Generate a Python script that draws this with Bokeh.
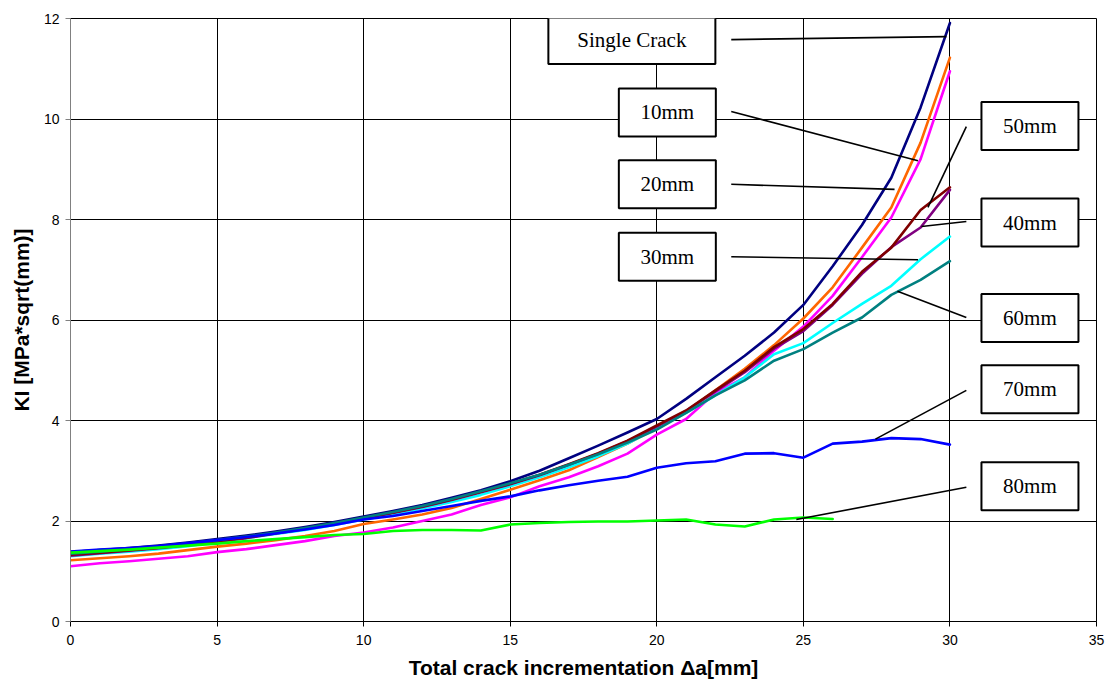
from bokeh.plotting import figure
from bokeh.models import Range1d, FixedTicker, ColumnDataSource
from bokeh.core.properties import value
from bokeh.embed import file_html
from bokeh.resources import INLINE

# ---------------- data ----------------
crack_inc = list(range(0, 31))          # Total crack incrementation [mm]
crack_inc_80 = list(range(0, 27))

ki_single = [1.38, 1.42, 1.46, 1.51, 1.57, 1.64, 1.71, 1.79, 1.88, 1.98, 2.09, 2.20, 2.32, 2.46, 2.61, 2.79,
             3.00, 3.25, 3.50, 3.76, 4.03, 4.43, 4.86, 5.29, 5.75, 6.30, 7.07, 7.89, 8.83, 10.23, 11.91]
ki_10mm = [1.22, 1.26, 1.30, 1.35, 1.42, 1.49, 1.55, 1.62, 1.70, 1.80, 1.94, 2.03, 2.13, 2.26, 2.44, 2.62,
           2.81, 3.01, 3.27, 3.54, 3.85, 4.18, 4.60, 5.03, 5.50, 6.03, 6.65, 7.44, 8.24, 9.53, 11.22]
ki_20mm = [1.10, 1.16, 1.20, 1.25, 1.30, 1.38, 1.44, 1.52, 1.60, 1.70, 1.77, 1.87, 2.00, 2.13, 2.32, 2.47,
           2.69, 2.87, 3.09, 3.34, 3.72, 4.03, 4.55, 4.86, 5.39, 5.87, 6.48, 7.25, 8.04, 9.20, 10.95]
ki_30mm = [1.30, 1.35, 1.39, 1.44, 1.50, 1.59, 1.66, 1.74, 1.82, 1.92, 2.03, 2.13, 2.25, 2.38, 2.52, 2.69,
           2.87, 3.07, 3.29, 3.54, 3.85, 4.15, 4.50, 4.86, 5.32, 5.54, 5.94, 6.32, 6.68, 7.21, 7.66]
ki_40mm = [1.31, 1.36, 1.41, 1.46, 1.52, 1.59, 1.66, 1.75, 1.84, 1.94, 2.05, 2.16, 2.28, 2.42, 2.57, 2.73,
           2.91, 3.12, 3.34, 3.59, 3.88, 4.19, 4.58, 4.96, 5.43, 5.78, 6.30, 6.92, 7.45, 7.84, 8.59]
ki_50mm = [1.33, 1.37, 1.42, 1.47, 1.53, 1.60, 1.67, 1.76, 1.85, 1.95, 2.06, 2.17, 2.29, 2.43, 2.58, 2.74,
           2.92, 3.13, 3.35, 3.60, 3.90, 4.20, 4.60, 4.99, 5.46, 5.82, 6.32, 6.96, 7.44, 8.19, 8.64]
ki_60mm = [1.35, 1.39, 1.44, 1.49, 1.55, 1.62, 1.69, 1.77, 1.86, 1.96, 2.07, 2.18, 2.30, 2.44, 2.59, 2.75,
           2.92, 3.12, 3.33, 3.56, 3.82, 4.15, 4.50, 4.80, 5.19, 5.42, 5.75, 6.05, 6.50, 6.80, 7.17]
ki_70mm = [1.39, 1.43, 1.46, 1.50, 1.56, 1.62, 1.68, 1.75, 1.83, 1.92, 2.03, 2.10, 2.20, 2.30, 2.40, 2.49,
           2.61, 2.71, 2.80, 2.88, 3.06, 3.15, 3.19, 3.34, 3.35, 3.26, 3.54, 3.58, 3.65, 3.63, 3.52]
ki_80mm = [1.37, 1.40, 1.43, 1.47, 1.51, 1.55, 1.60, 1.64, 1.68, 1.72, 1.74, 1.80, 1.82, 1.82, 1.81, 1.93,
           1.96, 1.98, 1.99, 1.99, 2.01, 2.03, 1.93, 1.89, 2.03, 2.07, 2.04]

series_names = ["Single Crack", "10mm", "20mm", "30mm", "40mm", "50mm", "60mm", "70mm", "80mm"]

x_ticks = [0, 5, 10, 15, 20, 25, 30, 35]
y_ticks = [0, 2, 4, 6, 8, 10, 12]

# ---------------- styles / label placement ----------------
colors = {
    "Single Crack": "#000080", "10mm": "#FF6600", "20mm": "#FF00FF", "30mm": "#00FFFF",
    "40mm": "#800080", "50mm": "#800000", "60mm": "#008080", "70mm": "#0000FF", "80mm": "#00FF00",
}
series_data = {
    "Single Crack": (crack_inc, ki_single), "10mm": (crack_inc, ki_10mm), "20mm": (crack_inc, ki_20mm),
    "30mm": (crack_inc, ki_30mm), "40mm": (crack_inc, ki_40mm), "50mm": (crack_inc, ki_50mm),
    "60mm": (crack_inc, ki_60mm), "70mm": (crack_inc, ki_70mm), "80mm": (crack_inc_80, ki_80mm),
}
draw_order = ["Single Crack", "10mm", "20mm", "30mm", "40mm", "50mm", "60mm", "70mm", "80mm"]

# label box centre (data units), box width (screen px), leader start, leader end (data units)
label_layout = {
    "Single Crack": ((19.15, 11.57), 167, (22.54, 11.58), (29.88, 11.64)),
    "10mm": ((20.36, 10.13), 97, (22.54, 10.15), (28.91, 9.17)),
    "20mm": ((20.36, 8.70), 97, (22.54, 8.70), (28.11, 8.60)),
    "30mm": ((20.36, 7.26), 97, (22.54, 7.26), (28.91, 7.20)),
    "50mm": ((32.73, 9.86), 97, (30.56, 9.85), (29.25, 8.24)),
    "40mm": ((32.73, 7.94), 97, (30.56, 7.96), (29.03, 7.86)),
    "60mm": ((32.73, 6.04), 97, (30.56, 6.05), (28.21, 6.57)),
    "70mm": ((32.73, 4.62), 97, (30.56, 4.60), (27.46, 3.63)),
    "80mm": ((32.73, 2.69), 97, (30.56, 2.67), (24.76, 2.03)),
}

p = figure(width=1106, height=688, output_backend="svg", toolbar_location=None,
           x_range=Range1d(0, 35), y_range=Range1d(0, 12),
           min_border_left=70, min_border_right=10, min_border_top=18, min_border_bottom=67)
p.background_fill_color = "white"
p.border_fill_color = "white"
p.outline_line_color = "black"
p.outline_line_width = 1

p.xaxis.ticker = FixedTicker(ticks=x_ticks)
p.yaxis.ticker = FixedTicker(ticks=y_ticks)
p.xaxis.minor_tick_line_color = None
p.yaxis.minor_tick_line_color = None
for ax in (p.xaxis, p.yaxis):
    ax.major_tick_in = 0
    ax.major_tick_out = 5
    ax.major_label_text_font = "Liberation Sans"
    ax.major_label_text_font_size = "14px"
    ax.major_label_text_color = "black"
    ax.axis_label_text_font = "Liberation Sans"
    ax.axis_label_text_font_style = "bold"
    ax.axis_label_text_font_size = "21px"
    ax.axis_label_text_color = "black"
p.yaxis.axis_line_color = "#808080"
p.yaxis.major_tick_line_color = "#808080"
p.xaxis.axis_line_color = "black"
p.xaxis.major_tick_line_color = "black"
p.xaxis.axis_label = "Total crack incrementation Δa[mm]"
p.yaxis.axis_label = "KI [MPa*sqrt(mm)]"
p.xaxis.major_label_standoff = 8
p.yaxis.major_label_standoff = 6
p.xaxis.axis_label_standoff = 8
p.yaxis.axis_label_standoff = 8

p.xgrid.grid_line_color = "black"
p.ygrid.grid_line_color = "black"
p.xgrid.grid_line_width = 1
p.ygrid.grid_line_width = 1

for name in draw_order:
    xs, ys = series_data[name]
    p.line(xs, ys, line_color=colors[name], line_width=2.6, line_join="round", line_cap="round")

# leader lines
for name in series_names:
    (cx, cy), bw, (sx, sy), (ex, ey) = label_layout[name]
    p.line([sx, ex], [sy, ey], line_color="black", line_width=1.6)

# label boxes
box_src = ColumnDataSource(dict(
    x=[label_layout[n][0][0] for n in series_names],
    y=[label_layout[n][0][1] for n in series_names],
    w=[label_layout[n][1] for n in series_names],
    text=series_names,
))
p.rect(x="x", y="y", width="w", height=48, width_units="screen", height_units="screen",
       source=box_src, fill_color="white", line_color="black", line_width=2)
p.text(x="x", y="y", text="text", source=box_src, text_align="center", text_baseline="middle",
       text_font=value("Liberation Serif"), text_font_size="21px", text_color="black")

open("out.html", "w").write(file_html(p, INLINE))
